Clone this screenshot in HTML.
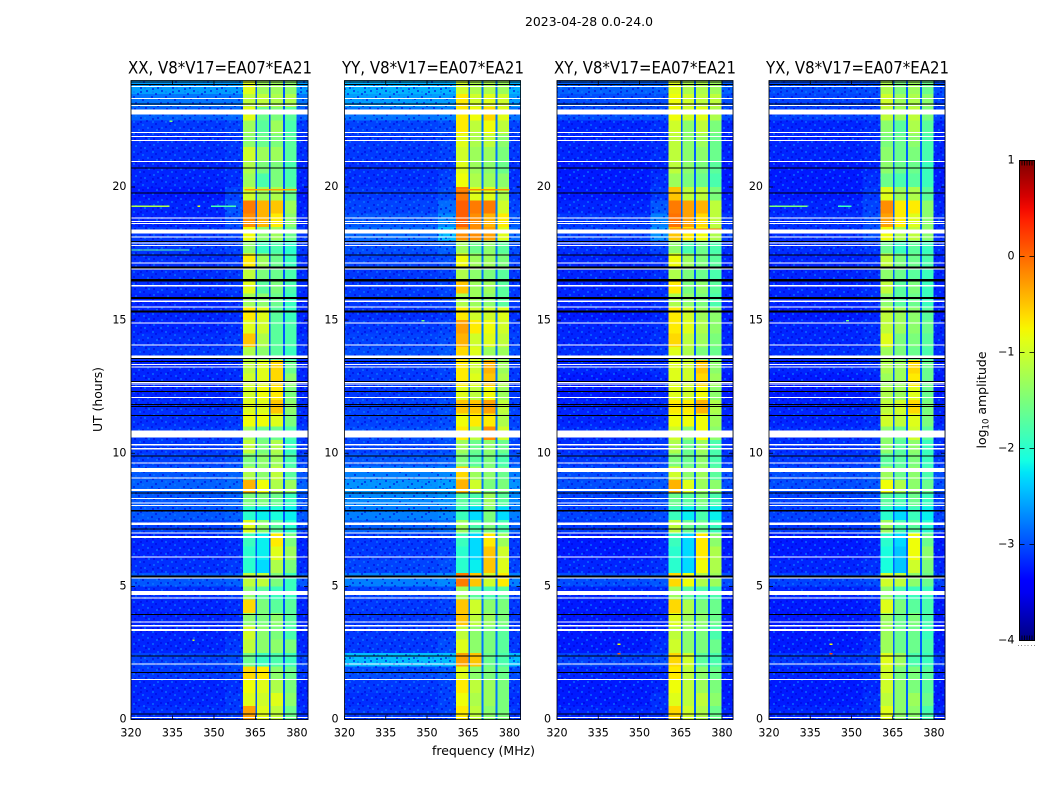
<!DOCTYPE html>
<html lang="en">
<head>
<meta charset="utf-8">
<title>2023-04-28 0.0-24.0 amplitude spectrogram</title>
<style>
html,body{margin:0;padding:0;background:#fff;}
body{width:1050px;height:800px;overflow:hidden;}
svg{display:block;font-family:"DejaVu Sans","Liberation Sans",sans-serif;fill:#000;}
.tick{font-size:11.1px;}
.lab{font-size:12.5px;}
.ttl{font-size:16.6px;}
</style>
</head>
<body>
<svg id="chart" xmlns="http://www.w3.org/2000/svg" width="1050" height="800" viewBox="0 0 1050 800">
<defs>
<pattern id="speckle" width="32" height="30" patternUnits="userSpaceOnUse">
<path fill="#0000d8" fill-opacity=".55" d="M1 0h2v2h-2zM9 3h2v2h-2zM18 0h2v2h-2zM27 3h2v2h-2zM5 6h2v2h-2zM14 9h2v2h-2zM23 6h2v2h-2zM0 12h2v2h-2zM10 15h2v2h-2zM19 12h2v2h-2zM29 15h2v2h-2zM6 18h2v2h-2zM15 21h2v2h-2zM25 18h2v2h-2zM2 24h2v2h-2zM12 27h2v2h-2zM21 24h2v2h-2zM29 27h2v2h-2zM12 1h2v2h-2zM30 8h2v2h-2zM17 17h2v2h-2zM7 12h2v2h-2zM24 28h2v2h-2z"/>
<path fill="#0a7cff" fill-opacity=".6" d="M5 1h2v2h-2zM14 4h2v2h-2zM24 1h2v2h-2zM1 7h2v2h-2zM10 9h2v2h-2zM19 7h2v2h-2zM28 9h2v2h-2zM5 13h2v2h-2zM15 15h2v2h-2zM24 13h2v2h-2zM1 19h2v2h-2zM11 21h2v2h-2zM20 18h2v2h-2zM29 21h2v2h-2zM7 25h2v2h-2zM16 27h2v2h-2zM25 24h2v2h-2zM0 27h2v2h-2z"/>
</pattern>
<linearGradient id="jetGradient" x1="0" y1="1" x2="0" y2="0"></linearGradient>
</defs>

<text class="lab" x="589" y="26" text-anchor="middle" textLength="128" lengthAdjust="spacingAndGlyphs">2023-04-28 0.0-24.0</text>
<text class="ttl" x="220" y="73.5" text-anchor="middle" textLength="184" lengthAdjust="spacingAndGlyphs">XX, V8*V17=EA07*EA21</text>
<text class="ttl" x="433" y="73.5" text-anchor="middle" textLength="182" lengthAdjust="spacingAndGlyphs">YY, V8*V17=EA07*EA21</text>
<text class="ttl" x="645" y="73.5" text-anchor="middle" textLength="182" lengthAdjust="spacingAndGlyphs">XY, V8*V17=EA07*EA21</text>
<text class="ttl" x="857.5" y="73.5" text-anchor="middle" textLength="183" lengthAdjust="spacingAndGlyphs">YX, V8*V17=EA07*EA21</text>
<text class="lab" x="483.5" y="755" text-anchor="middle" textLength="103" lengthAdjust="spacingAndGlyphs">frequency (MHz)</text>
<text class="lab" transform="translate(102,399.5) rotate(-90)" text-anchor="middle" textLength="65" lengthAdjust="spacingAndGlyphs">UT (hours)</text>
<text class="lab" transform="translate(986,400) rotate(-90)" text-anchor="middle">log<tspan font-size="8.5" dy="2.5">10</tspan><tspan dy="-2.5"> amplitude</tspan></text>

<g id="panels"></g>
<g id="colorbar"></g>
</svg>

<script>
// Chart data: log10 amplitude per half-hour row (row 0 = 23.5-24.0 UT, row 47 = 0.0-0.5 UT)
const xTickLabels = [320, 335, 350, 365, 380];
const yTickLabels = [0, 5, 10, 15, 20];
const colorbarTicks = [-4, -3, -2, -1, 0, 1];
const panelNames = ['xx', 'yy', 'xy', 'yx'];

const xxBg = [
 -2.6,-2.8,-2.9,-3.1,-3.15,-3.15,-3.2,-3.2,-3.25,-3.2,-3.2,-3.1,
 -3.1,-3.15,-3.15,-3.15,-3.2,-3.2,-3.2,-3.15,-3.1,-3.2,-3.2,-3.2,
 -3.15,-3.15,-3.1,-3.1,-3.05,-2.95,-2.9,-2.95,-2.95,-3.05,-3.2,-3.2,
 -3.15,-2.95,-3.15,-3.2,-3.2,-3.2,-3.2,-3.05,-3.1,-3.2,-3.2,-3.15];
const xxNear = [
 -2.6,-2.8,-2.85,-3.05,-3.1,-3.1,-3.15,-3.15,-3.05,-2.95,-3.0,-3.05,
 -3.05,-3.1,-3.1,-3.1,-3.15,-3.15,-3.15,-3.1,-3.05,-3.15,-3.15,-3.15,
 -3.1,-3.1,-3.05,-3.05,-3.0,-2.9,-2.85,-2.9,-2.9,-3.0,-3.15,-3.15,
 -3.1,-2.9,-3.1,-3.15,-3.15,-3.15,-3.1,-3.0,-3.05,-3.15,-3.1,-3.1];
const xxA = [
 -0.9,-1.1,-0.9,-1.3,-1.4,-1.0,-1.2,-1.3,-1.0,-0.1,-0.2,-0.8,
 -1.4,-0.7,-1.1,-0.9,-1.3,-0.7,-0.9,-0.5,-1.2,-1.1,-1.0,-1.0,
 -0.9,-0.8,-1.3,-1.1,-1.5,-1.2,-0.4,-1.5,-2.0,-0.9,-1.9,-2.0,
 -2.0,-1.1,-1.4,-0.6,-1.4,-1.0,-1.1,-1.6,-0.6,-0.8,-0.9,-0.3];
const xxB = [
 -1.3,-1.1,-1.6,-1.7,-1.6,-1.3,-1.5,-1.8,-1.3,-0.4,-0.4,-1.4,
 -1.9,-1.3,-1.5,-1.7,-1.4,-0.9,-1.0,-1.2,-1.4,-0.9,-0.9,-0.8,
 -0.9,-0.8,-1.6,-1.5,-1.4,-1.4,-0.8,-1.5,-2.2,-1.4,-2.2,-2.2,
 -2.3,-1.1,-1.7,-1.5,-1.5,-1.4,-1.4,-1.9,-0.7,-0.9,-1.0,-0.9];
const xxC = [
 -1.3,-1.2,-1.5,-1.3,-1.5,-1.3,-1.5,-1.5,-1.2,-0.5,-0.7,-1.3,
 -1.8,-1.6,-1.6,-1.5,-1.6,-1.7,-1.7,-1.7,-1.7,-0.6,-0.6,-0.7,
 -0.5,-0.9,-1.6,-1.2,-1.3,-1.1,-1.2,-1.6,-2.1,-1.7,-0.7,-0.9,
 -1.2,-1.5,-1.9,-1.7,-1.4,-1.5,-1.4,-1.8,-1.4,-1.2,-0.9,-1.1];
const xxD = [
 -1.4,-1.2,-1.7,-1.8,-1.7,-1.7,-1.8,-1.8,-1.6,-1.3,-1.4,-1.6,
 -2.0,-1.9,-1.8,-1.8,-1.9,-1.9,-1.8,-1.8,-1.9,-1.6,-1.4,-1.5,
 -1.4,-1.5,-1.8,-1.9,-1.8,-1.7,-1.3,-1.9,-2.2,-2.0,-1.5,-1.3,
 -1.5,-1.9,-1.9,-1.7,-1.7,-1.8,-1.5,-1.9,-1.6,-1.5,-1.4,-1.6];

const yyBg = [
 -2.5,-2.6,-2.8,-3.05,-3.1,-3.1,-3.15,-3.15,-3.1,-3.05,-2.95,-2.85,
 -3.0,-3.05,-3.1,-3.1,-3.1,-3.15,-3.1,-3.05,-3.0,-3.1,-3.1,-3.1,
 -3.05,-3.05,-3.0,-3.05,-2.95,-2.75,-2.65,-2.7,-2.75,-2.9,-3.1,-3.1,
 -3.05,-2.75,-3.05,-3.1,-3.1,-3.1,-3.1,-2.45,-3.0,-3.1,-3.15,-3.1];
const yyNear = [
 -2.5,-2.6,-2.75,-3.0,-3.05,-3.05,-3.1,-3.05,-3.0,-2.85,-2.7,-2.45,
 -2.9,-3.0,-3.05,-3.05,-3.05,-3.1,-3.05,-3.0,-2.95,-3.05,-3.05,-3.05,
 -3.0,-3.0,-2.95,-3.0,-2.9,-2.7,-2.6,-2.65,-2.7,-2.85,-3.05,-3.05,
 -3.0,-2.7,-3.0,-3.05,-3.05,-3.05,-3.0,-2.45,-2.95,-3.05,-3.05,-3.05];
const yyA = [
 -1.0,-0.7,-0.7,-0.7,-0.9,-1.0,-0.9,-0.8,-0.1,0.05,0.05,-0.2,
 -1.3,-0.8,-1.2,-0.5,-1.2,-0.7,-0.3,-0.4,-0.6,-0.7,-0.7,-0.9,
 -0.5,-0.8,-0.7,-1.3,-1.5,-0.6,-0.4,-1.7,-1.9,-1.3,-1.9,-2.0,
 -2.0,-0.1,-1.3,-0.5,-0.5,-1.1,-0.9,-0.3,-0.9,-0.7,-0.8,-0.7];
const yyB = [
 -1.2,-1.0,-0.8,-1.1,-1.2,-1.3,-1.3,-1.2,-0.9,-0.1,-0.2,-0.2,
 -1.6,-1.3,-1.4,-1.3,-1.3,-1.0,-0.7,-1.0,-0.9,-1.0,-0.9,-1.1,
 -0.5,-0.7,-1.1,-1.6,-1.7,-1.3,-1.0,-1.8,-2.3,-1.8,-2.3,-2.3,
 -2.2,-0.5,-1.7,-1.0,-1.1,-1.4,-1.4,-0.5,-1.4,-1.1,-1.2,-1.1];
const yyC = [
 -1.2,-0.9,-0.6,-0.8,-1.1,-1.3,-1.4,-1.3,-0.9,-0.1,-0.4,-0.3,
 -1.4,-1.3,-1.5,-1.3,-1.4,-1.0,-0.8,-0.9,-1.3,-0.4,-0.5,-0.8,
 -0.3,-0.7,-0.2,-1.4,-1.5,-1.4,-1.5,-1.3,-1.5,-1.5,-0.7,-0.5,
 -0.5,-1.0,-1.8,-1.4,-1.3,-1.5,-1.5,-1.6,-1.5,-1.3,-1.3,-1.4];
const yyD = [
 -1.3,-1.0,-0.9,-1.1,-1.4,-1.5,-1.6,-1.4,-1.2,-1.0,-0.7,-0.9,
 -1.7,-1.5,-1.7,-1.7,-1.7,-0.9,-1.0,-1.1,-1.3,-1.3,-1.2,-1.3,
 -1.1,-1.2,-1.0,-1.6,-1.8,-1.6,-1.5,-1.7,-2.3,-1.8,-1.3,-1.0,
 -0.9,-0.7,-1.7,-1.5,-1.5,-1.7,-1.7,-1.8,-1.6,-1.5,-1.5,-1.5];

const xyBg = [
 -2.9,-3.0,-3.0,-3.2,-3.2,-3.2,-3.25,-3.25,-3.25,-3.2,-3.1,-3.05,
 -3.15,-3.2,-3.2,-3.2,-3.2,-3.25,-3.2,-3.2,-3.15,-3.2,-3.25,-3.25,
 -3.2,-3.2,-3.15,-3.15,-3.1,-3.0,-3.0,-3.05,-3.05,-3.1,-3.25,-3.25,
 -3.2,-3.0,-3.2,-3.25,-3.25,-3.25,-3.25,-3.05,-3.2,-3.25,-3.25,-3.2];
const xyNear = [
 -2.9,-3.0,-3.0,-3.15,-3.15,-3.15,-3.2,-3.15,-3.1,-2.95,-2.75,-2.65,
 -3.05,-3.15,-3.15,-3.15,-3.15,-3.2,-3.15,-3.15,-3.1,-3.15,-3.2,-3.2,
 -3.15,-3.15,-3.1,-3.1,-3.05,-2.95,-2.95,-3.0,-3.0,-3.05,-3.2,-3.2,
 -3.15,-2.95,-3.15,-3.2,-3.2,-3.2,-3.15,-3.0,-3.15,-3.2,-3.15,-3.15];
const xyA = [
 -0.9,-0.8,-0.8,-1.0,-1.1,-1.1,-1.1,-1.3,-0.5,-0.1,-0.05,-0.5,
 -1.4,-0.8,-1.2,-0.7,-1.2,-0.7,-0.7,-0.6,-0.9,-0.9,-0.9,-0.9,
 -0.7,-0.8,-1.0,-1.2,-1.5,-1.0,-0.4,-1.6,-1.9,-1.1,-1.9,-2.0,
 -2.0,-0.6,-1.3,-0.6,-0.9,-1.1,-1.0,-0.6,-0.7,-0.8,-0.9,-0.6];
const xyB = [
 -1.2,-1.0,-1.0,-1.4,-1.4,-1.4,-1.4,-1.5,-1.1,-0.3,-0.3,-0.7,
 -1.8,-1.3,-1.5,-1.5,-1.4,-1.0,-0.9,-1.1,-1.2,-1.0,-1.0,-1.0,
 -0.7,-0.8,-1.4,-1.6,-1.6,-1.4,-0.9,-1.7,-2.2,-1.6,-2.3,-2.3,
 -2.3,-0.8,-1.7,-1.2,-1.3,-1.4,-1.4,-1.0,-1.1,-1.1,-1.1,-1.0];
const xyC = [
 -1.2,-1.1,-0.9,-1.1,-1.3,-1.4,-1.5,-1.6,-1.1,-0.4,-0.6,-0.8,
 -1.6,-1.5,-1.6,-1.4,-1.5,-1.3,-1.2,-1.3,-1.5,-0.5,-0.6,-0.8,
 -0.4,-0.8,-0.8,-1.3,-1.4,-1.3,-1.3,-1.5,-1.8,-1.6,-0.7,-0.7,
 -0.8,-1.2,-1.8,-1.5,-1.4,-1.5,-1.5,-1.7,-1.4,-1.3,-1.1,-1.2];
const xyD = [
 -1.3,-1.1,-1.2,-1.5,-1.6,-1.6,-1.7,-1.8,-1.5,-1.1,-1.1,-1.2,
 -1.8,-1.7,-1.8,-1.7,-1.8,-1.4,-1.4,-1.5,-1.6,-1.4,-1.3,-1.4,
 -1.2,-1.3,-1.4,-1.8,-1.8,-1.7,-1.4,-1.8,-2.2,-1.9,-1.4,-1.2,
 -1.2,-1.3,-1.8,-1.6,-1.6,-1.8,-1.6,-1.8,-1.6,-1.5,-1.4,-1.6];

const yxBg = [
 -3.0,-3.05,-3.05,-3.2,-3.2,-3.2,-3.25,-3.25,-3.25,-3.2,-3.15,-3.15,
 -3.15,-3.2,-3.2,-3.2,-3.2,-3.25,-3.2,-3.2,-3.15,-3.2,-3.25,-3.25,
 -3.2,-3.2,-3.15,-3.15,-3.1,-3.0,-3.0,-3.05,-3.05,-3.1,-3.25,-3.25,
 -3.2,-3.05,-3.2,-3.25,-3.25,-3.25,-3.25,-3.1,-3.2,-3.25,-3.25,-3.2];
const yxNear = [
 -3.0,-3.05,-3.05,-3.15,-3.15,-3.15,-3.2,-3.15,-3.1,-3.05,-3.0,-3.0,
 -3.1,-3.15,-3.15,-3.15,-3.15,-3.2,-3.15,-3.15,-3.1,-3.15,-3.2,-3.2,
 -3.15,-3.15,-3.1,-3.1,-3.05,-2.95,-2.95,-3.0,-3.0,-3.05,-3.2,-3.2,
 -3.15,-3.0,-3.15,-3.2,-3.2,-3.2,-3.15,-3.05,-3.15,-3.2,-3.15,-3.15];
const yxA = [
 -1.2,-1.0,-1.1,-1.4,-1.5,-1.4,-1.4,-1.6,-0.9,-0.2,-0.3,-0.8,
 -1.6,-1.1,-1.4,-1.1,-1.4,-1.1,-1.1,-0.9,-1.3,-1.2,-1.3,-1.2,
 -1.1,-1.0,-1.4,-1.4,-1.7,-1.3,-0.8,-1.7,-2.0,-1.3,-2.0,-2.1,
 -2.1,-1.0,-1.4,-0.9,-1.3,-1.3,-1.3,-0.9,-1.0,-1.0,-1.1,-0.9];
const yxB = [
 -1.5,-1.3,-1.3,-1.7,-1.6,-1.6,-1.6,-1.8,-1.3,-0.7,-0.7,-1.2,
 -1.9,-1.5,-1.6,-1.7,-1.7,-1.3,-1.3,-1.5,-1.5,-1.3,-1.3,-1.3,
 -1.0,-1.1,-1.6,-1.7,-1.7,-1.6,-1.2,-1.8,-2.3,-1.8,-2.3,-2.4,
 -2.4,-1.1,-1.8,-1.5,-1.6,-1.6,-1.6,-1.3,-1.5,-1.4,-1.4,-1.4];
const yxC = [
 -1.3,-1.2,-1.1,-1.2,-1.4,-1.5,-1.6,-1.7,-1.2,-0.7,-0.9,-1.1,
 -1.7,-1.6,-1.7,-1.5,-1.6,-1.4,-1.4,-1.5,-1.6,-0.6,-0.7,-0.9,
 -0.6,-0.9,-1.0,-1.4,-1.5,-1.4,-1.4,-1.6,-1.9,-1.7,-0.8,-0.8,
 -1.0,-1.4,-1.9,-1.7,-1.5,-1.6,-1.6,-1.8,-1.5,-1.5,-1.3,-1.4];
const yxD = [
 -1.6,-1.4,-1.5,-1.7,-1.8,-1.8,-1.9,-1.9,-1.7,-1.4,-1.4,-1.4,
 -1.9,-1.8,-1.9,-1.9,-1.9,-1.7,-1.6,-1.7,-1.8,-1.6,-1.6,-1.6,
 -1.5,-1.5,-1.7,-1.9,-1.9,-1.8,-1.6,-1.9,-2.2,-2.0,-1.6,-1.4,
 -1.5,-1.6,-1.9,-1.8,-1.8,-1.9,-1.8,-1.9,-1.7,-1.7,-1.6,-1.8];

// Level of the dark channels between spectral windows, one per panel
const windowGapLevels = [-2.95, -2.8, -2.9, -2.9];

// Flagged integrations, common to every panel: [centre UT, duration hours]
const whiteFlags = [
 [23.77,.04],[23.32,.04],[23.06,.04],[22.82,.19],[22.04,.04],[21.89,.04],[21.74,.04],[20.95,.04],
 [18.84,.04],[18.71,.04],[18.63,.04],[18.32,.15],[18.13,.04],[17.90,.04],[17.81,.04],[17.15,.04],
 [16.92,.04],[16.29,.04],[15.71,.04],[15.50,.04],[14.89,.04],[14.07,.04],[13.625,.09],[13.33,.04],
 [13.24,.04],[12.66,.04],[12.60,.04],[12.51,.04],[12.09,.04],[10.72,.26],[10.32,.04],[10.17,.04],
 [9.63,.04],[9.375,.15],[9.07,.04],[8.62,.06],[8.30,.04],[8.13,.04],[8.03,.04],[7.355,.09],
 [7.00,.04],[6.855,.09],[6.11,.04],[5.31,.04],[4.755,.15],[4.57,.04],[3.67,.04],[3.52,.04],
 [3.365,.07],[2.08,.04],[1.51,.04],[0.07,.04]];
const blackFlags = [
 [23.95,.04],[23.85,.04],[23.11,.04],[20.72,.04],[19.78,.04],[17.96,.04],[17.44,.04],[16.98,.07],
 [16.50,.08],[15.83,.08],[15.33,.08],[13.56,.04],[13.45,.04],[12.70,.04],[12.32,.04],[11.83,.04],
 [11.75,.04],[11.41,.04],[9.89,.04],[8.50,.04],[7.84,.04],[7.16,.04],[5.37,.08],[3.95,.04],
 [2.39,.04],[1.76,.04],[0.20,.04]];

// Narrow interference events: panel index, UT, start MHz, end MHz, log10 amplitude
const eventPanels = [0,0,0,0,0,0,0,1,1,2,2,2,3,3,3,3,3];
const eventUT = [19.3,19.3,19.3,19.92,17.66,22.5,3.0,19.92,15.0,18.45,2.5,2.85,19.3,19.3,2.5,2.85,15.0];
const eventStart = [320,344,349,361,320,334,342.3,361,348,361,342,342,320,345,342,342,348];
const eventEnd = [334,345,358,380,341,335,343,380,349,380,343,343,334,350,343,343,349];
const eventLevels = [-1.2,-0.9,-1.8,-0.3,-1.7,-1.5,-1.0,-0.2,-1.6,-0.1,0.1,-0.8,-1.5,-1.9,0.2,-0.8,-1.6];

const NS = 'http://www.w3.org/2000/svg';
const panelData = [
 [xxBg, xxNear, xxA, xxB, xxC, xxD],
 [yyBg, yyNear, yyA, yyB, yyC, yyD],
 [xyBg, xyNear, xyA, xyB, xyC, xyD],
 [yxBg, yxNear, yxA, yxB, yxC, yxD]
];
const axesLeft = [131, 344.5, 557, 769];
const axesRight = [308, 520.5, 733, 945];
const yLabelOffset = [4.5, 6, 6, 6];
const axesTop = 80.5;
const axesBottom = 719.5;
const fMin = 320, fMax = 384, utMin = 0, utMax = 24;

function xScale(p, mhz) {
  return axesLeft[p] + (mhz - fMin) * (axesRight[p] - axesLeft[p]) / (fMax - fMin);
}
function yScale(ut) {
  return axesBottom - (ut - utMin) * (axesBottom - axesTop) / (utMax - utMin);
}
function piece(pts, t) {
  for (let i = 1; i < pts.length; i++) {
    if (t <= pts[i][0]) {
      const a = pts[i - 1], b = pts[i];
      return a[1] + (b[1] - a[1]) * (t - a[0]) / (b[0] - a[0]);
    }
  }
  return pts[pts.length - 1][1];
}
function jet(t) {
  t = Math.max(0, Math.min(1, t));
  const r = piece([[0,0],[.35,0],[.66,1],[.89,1],[1,.5]], t);
  const g = piece([[0,0],[.125,0],[.375,1],[.64,1],[.91,0],[1,0]], t);
  const b = piece([[0,.5],[.11,1],[.34,1],[.65,0],[1,0]], t);
  return 'rgb(' + Math.round(r * 255) + ',' + Math.round(g * 255) + ',' + Math.round(b * 255) + ')';
}
function colorOf(level) {
  return jet((level + 4) / 5);
}
function makeRect(parent, x, y, w, h, fill) {
  const el = document.createElementNS(NS, 'rect');
  el.setAttribute('x', x);
  el.setAttribute('y', y);
  el.setAttribute('width', w);
  el.setAttribute('height', h);
  el.setAttribute('fill', fill);
  el.setAttribute('shape-rendering', 'crispEdges');
  parent.appendChild(el);
  return el;
}
function makeLine(parent, x1, y1, x2, y2, stroke) {
  const el = document.createElementNS(NS, 'line');
  el.setAttribute('x1', x1);
  el.setAttribute('y1', y1);
  el.setAttribute('x2', x2);
  el.setAttribute('y2', y2);
  el.setAttribute('stroke', stroke);
  el.setAttribute('stroke-width', '0.8');
  parent.appendChild(el);
  return el;
}
function makeText(parent, x, y, anchor, str) {
  const el = document.createElementNS(NS, 'text');
  el.setAttribute('x', x);
  el.setAttribute('y', y);
  el.setAttribute('text-anchor', anchor);
  el.setAttribute('class', 'tick');
  el.textContent = str;
  parent.appendChild(el);
  return el;
}

const panelsGroup = document.getElementById('panels');
const rowCount = xxBg.length;
const rowHours = (utMax - utMin) / rowCount;

for (let p = 0; p < panelNames.length; p++) {
  const g = document.createElementNS(NS, 'g');
  
  
  panelsGroup.appendChild(g);

  const [bg, near, a, b, c, d] = panelData[p];
  const gap = windowGapLevels[p];
  for (let r = 0; r < rowCount; r++) {
    const utTop = utMax - r * rowHours;
    const y = yScale(utTop);
    const h = yScale(utTop - rowHours) - y + 0.6;
    const zones = [
      [320, 354, bg[r]], [354, 360.5, near[r]],
      [360.5, 365, a[r]], [365, 365.6, gap],
      [365.6, 369.9, b[r]], [369.9, 370.5, gap],
      [370.5, 374.9, c[r]], [374.9, 375.6, gap],
      [375.6, 379.9, d[r]], [379.9, 384, bg[r]]
    ];
    for (const z of zones) {
      const x0 = xScale(p, z[0]);
      const cell = makeRect(g, x0, y, xScale(p, z[1]) - x0 + 0.4, h, colorOf(z[2]));
      
      
    }
  }

  const speckleLeft = makeRect(g, xScale(p, 320), axesTop, xScale(p, 360.5) - xScale(p, 320), axesBottom - axesTop, 'url(#speckle)');
  
  
  const speckleRight = makeRect(g, xScale(p, 379.9), axesTop, xScale(p, 384) - xScale(p, 379.9), axesBottom - axesTop, 'url(#speckle)');
  
  

  for (let e = 0; e < eventPanels.length; e++) {
    if (eventPanels[e] !== p) continue;
    const x0 = xScale(p, eventStart[e]);
    const ev = makeRect(g, x0, yScale(eventUT[e]), xScale(p, eventEnd[e]) - x0, 1.4, colorOf(eventLevels[e]));
    
    
  }
  for (const f of whiteFlags) {
    const y0 = yScale(f[0] + f[1] / 2);
    const wf = makeRect(g, axesLeft[p], y0, axesRight[p] - axesLeft[p], yScale(f[0] - f[1] / 2) - y0, '#fff');
    
    
  }
  for (const f of blackFlags) {
    const y0 = yScale(f[0] + f[1] / 2);
    const bf = makeRect(g, axesLeft[p], y0, axesRight[p] - axesLeft[p], yScale(f[0] - f[1] / 2) - y0, '#000');
    
    
  }

  for (const t of xTickLabels) {
    const x = xScale(p, t);
    const t1 = makeLine(g, x, axesBottom, x, axesBottom - 4, '#000');
    
    
    const t2 = makeLine(g, x, axesTop, x, axesTop + 4, '#000');
    
    
    const lbl = makeText(g, x, axesBottom + 17, 'middle', String(t));
    
    
  }
  for (const t of yTickLabels) {
    const y = yScale(t);
    const t1 = makeLine(g, axesLeft[p], y, axesLeft[p] + 4, y, '#000');
    
    
    const t2 = makeLine(g, axesRight[p], y, axesRight[p] - 4, y, '#000');
    
    
    const lbl = makeText(g, axesLeft[p] - yLabelOffset[p], y + 3.2, 'end', String(t));
    
    
  }

  const frame = document.createElementNS(NS, 'rect');
  frame.setAttribute('x', axesLeft[p]);
  frame.setAttribute('y', axesTop);
  frame.setAttribute('width', axesRight[p] - axesLeft[p]);
  frame.setAttribute('height', axesBottom - axesTop);
  frame.setAttribute('fill', 'none');
  frame.setAttribute('stroke', '#000');
  frame.setAttribute('stroke-width', '0.8');
  
  
  g.appendChild(frame);
}

// Colorbar
const grad = document.getElementById('jetGradient');
for (let i = 0; i <= 40; i++) {
  const stop = document.createElementNS(NS, 'stop');
  stop.setAttribute('offset', i / 40);
  stop.setAttribute('stop-color', jet(i / 40));
  grad.appendChild(stop);
}
const cbGroup = document.getElementById('colorbar');
const cbLeft = 1019.5, cbRight = 1034.5, cbTop = 160.5, cbBottom = 640.5;
function cbScale(level) {
  return cbBottom - (level + 4) * (cbBottom - cbTop) / 5;
}
const cbFill = document.createElementNS(NS, 'rect');
cbFill.setAttribute('x', cbLeft);
cbFill.setAttribute('y', cbTop);
cbFill.setAttribute('width', cbRight - cbLeft);
cbFill.setAttribute('height', cbBottom - cbTop);
cbFill.setAttribute('fill', 'url(#jetGradient)');
cbFill.setAttribute('stroke', '#000');
cbFill.setAttribute('stroke-width', '1');


cbGroup.appendChild(cbFill);
for (const t of colorbarTicks) {
  const y = cbScale(t);
  if (t > -4 && t < 1) {
    const m1 = makeLine(cbGroup, cbLeft, y, cbLeft + 5, y, '#000');
    
    
    const m2 = makeLine(cbGroup, cbRight - 5, y, cbRight, y, '#000');
    
    
  }
  const lbl = makeText(cbGroup, cbLeft - 5, y + 3.2, 'end', String(t).replace('-', '\u2212'));
  
  
}
for (let i = 0; i < 5; i++) {
  const x = cbLeft + 2.5 + i * 2.5;
  const up = makeLine(cbGroup, x, cbTop, x, cbTop + 5, '#000');
  
  
  const down = makeLine(cbGroup, x, cbBottom, x, cbBottom - 5, '#000');
  
  
}
for (let i = 0; i < 6; i++) {
  const dot = makeRect(cbGroup, 1018 + i * 3.2, 645, 1, 1, '#888');
  
  
}
</script>
</body>
</html>
